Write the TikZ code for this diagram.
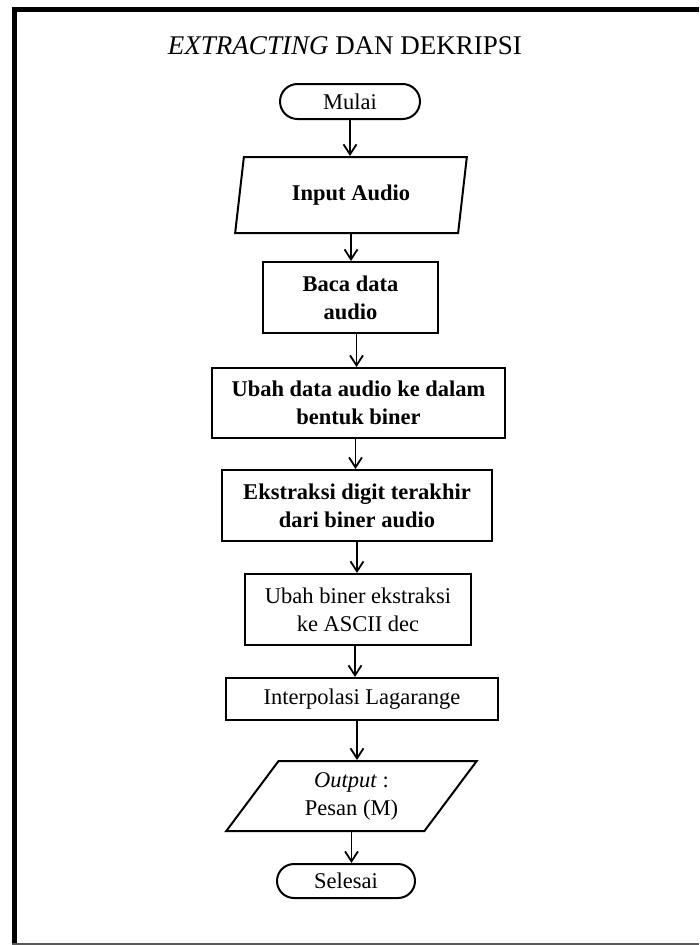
\documentclass[tikz,border=0pt]{standalone}
\usepackage{fontspec}
\setmainfont{Liberation Serif}
\usetikzlibrary{positioning, arrows.meta, shapes.geometric, shapes.misc}

\tikzset{
    txt/.style={font=\fontsize{22.5}{28}\selectfont, align=center, inner sep=0pt},
    proc/.style={txt, draw, line width=2pt, rectangle},
    io/.style={txt, draw, line width=2pt, trapezium, trapezium stretches=true},
    term/.style={txt, draw, line width=2pt, rounded rectangle},
    flow/.style={-{Straight Barb[length=10pt,width=13pt]}, line width=1.8pt},
}

\begin{document}
\begin{tikzpicture}[x=1pt,y=-1pt]
    \useasboundingbox (0,0) rectangle (699,945);
    % Frame
    \draw[line width=5pt] (14.5,945) -- (14.5,9.5) -- (699,9.5);
    \draw[gray!70!black, line width=2pt] (12,944) -- (699,944);

    % Title
    \node[txt, font=\fontsize{27}{30}\selectfont] (title) at (345,46) {\textit{EXTRACTING} DAN DEKRIPSI};

    % Steps
    \node[term, minimum width=140, minimum height=35] (mulai) at (350,101.5) {Mulai};
    \node[io, trapezium left angle=76.7, trapezium right angle=103.3,
          minimum width=232, minimum height=76] (input) at (351,195) {\textbf{Input Audio}};
    \node[proc, minimum width=175, minimum height=71] (baca) at (350.5,297.5) {\textbf{Baca data}\\\textbf{audio}};
    \node[proc, minimum width=293, minimum height=70] (biner) at (358.5,403) {\textbf{Ubah data audio ke dalam}\\\textbf{bentuk biner}};
    \node[proc, minimum width=270, minimum height=71] (ekstrak) at (357,505.5) {\textbf{Ekstraksi digit terakhir}\\\textbf{dari biner audio}};
    \node[proc, minimum width=226, minimum height=71] (ascii) at (358,609.5) {Ubah biner ekstraksi\\ke ASCII dec};
    \node[proc, minimum width=272, minimum height=42] (lagrange) at (362,699) {Interpolasi Lagarange};
    \node[io, trapezium left angle=55, trapezium right angle=125,
          minimum width=251, minimum height=70] (output) at (351.5,796) {\textit{Output} :\\Pesan (M)};
    \node[term, minimum width=138, minimum height=34] (selesai) at (346,881) {Selesai};

    % Arrows
    \draw[flow] (mulai.south) -- (mulai.south |- input.north);
    \draw[flow] (input.south) -- (input.south |- baca.north);
    \draw[flow] ([xshift=6pt]baca.south) -- ([xshift=6pt]baca.south |- biner.north);
    \draw[flow] ([xshift=-3pt]biner.south) -- ([xshift=-3pt]biner.south |- ekstrak.north);
    \draw[flow] (ekstrak.south) -- (ekstrak.south |- ascii.north);
    \draw[flow] ([xshift=-3pt]ascii.south) -- ([xshift=-3pt]ascii.south |- lagrange.north);
    \draw[flow] ([xshift=-5pt]lagrange.south) -- ([xshift=-5pt]lagrange.south |- output.north);
    \draw[flow] (output.south) -- (output.south |- selesai.north);
\end{tikzpicture}
\end{document}
